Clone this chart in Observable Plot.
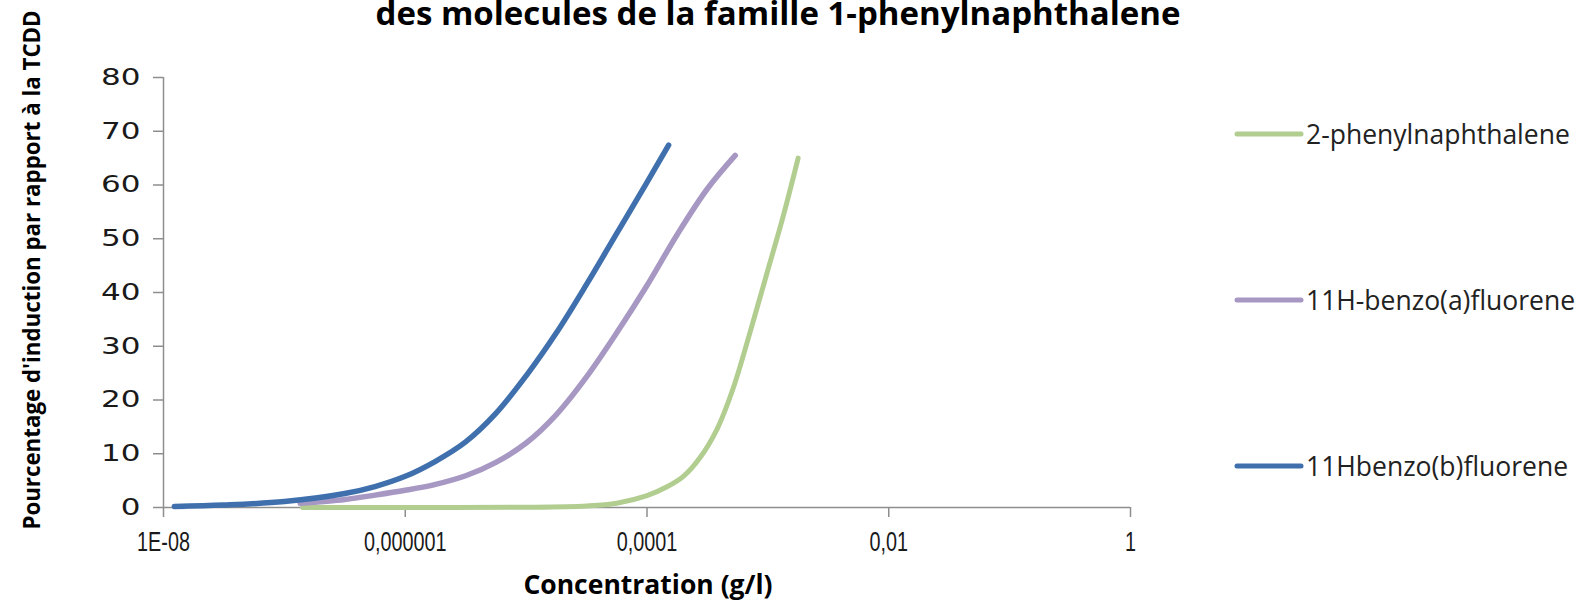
<!DOCTYPE html>
<html>
<head>
<meta charset="utf-8">
<script src="https://cdn.jsdelivr.net/npm/d3@7"></script>
<script src="https://cdn.jsdelivr.net/npm/@observablehq/plot@0.6"></script>
<style>
  html, body { margin: 0; padding: 0; background: #fff; }
  #wrap { position: relative; width: 1596px; height: 602px; overflow: hidden; background: #fff; }
  #chart { position: absolute; left: 0; top: 0; }
  .title { position: absolute; left: 778px; top: 0; transform: translateX(-50%);
    font: 700 33px/26px "Open Sans", sans-serif; white-space: nowrap; color: #000; }
  .ylab { position: absolute; left: 31px; top: 270px; transform: translate(-50%, -50%) rotate(-90deg);
    font: 700 22.3px "Open Sans", sans-serif; white-space: nowrap; color: #000; }
  .xlab { position: absolute; left: 648px; top: 584px; transform: translate(-50%, -50%);
    font: 700 26.5px/30px "Open Sans", sans-serif; white-space: nowrap; color: #000; }
  .leg { position: absolute; left: 1234px; transform: translateY(-50%); display: flex; align-items: center;
    font: 400 26.5px "Open Sans", sans-serif; color: #222; white-space: nowrap; }
  .leg svg { display: block; margin-right: 2px; }
</style>
</head>
<body>
<div id="wrap">
  <div id="chart"></div>
  <div class="title" id="title"></div>
  <div class="ylab" id="ylab"></div>
  <div class="xlab" id="xlab"></div>
  <div id="legend"></div>
</div>
<script>
// ---- data ----
const titleText = "des molecules de la famille 1-phenylnaphthalene";
const yLabel = "Pourcentage d'induction par rapport à la TCDD";
const xLabel = "Concentration (g/l)";

const seriesNames = ["2-phenylnaphthalene", "11H-benzo(a)fluorene", "11Hbenzo(b)fluorene"];
const seriesColors = ["#b2cd90", "#a697c3", "#3f70ad"];
const seriesWidths = [5, 5.5, 5.5];

const xTicks = [1e-8, 1e-6, 1e-4, 1e-2, 1];
const xTickLabels = ["1E-08", "0,000001", "0,0001", "0,01", "1"];
const yTicks = [0, 10, 20, 30, 40, 50, 60, 70, 80];

// 2-phenylnaphthalene
const concGreen = [1.41e-7, 1e-6, 1e-5, 3.16e-5, 5.62e-5, 1e-4, 1.45e-4, 2.0e-4, 2.75e-4, 3.8e-4, 5.13e-4, 7.08e-4, 9.77e-4, 1.35e-3, 1.78e-3];
const valGreen  = [0, 0, 0.05, 0.3, 0.8, 2.2, 3.8, 5.8, 9.3, 14.6, 22.0, 32.4, 43.4, 54.5, 65.0];

// 11H-benzo(a)fluorene
const concPurple = [1.35e-7, 3.16e-7, 5.62e-7, 1e-6, 1.78e-6, 3.16e-6, 5.62e-6, 1e-5, 1.78e-5, 3.16e-5, 5.62e-5, 1e-4, 1.78e-4, 3.16e-4, 5.37e-4];
const valPurple  = [0.8, 1.5, 2.3, 3.2, 4.3, 5.9, 8.4, 12.0, 17.3, 24.3, 32.5, 41.3, 50.8, 59.3, 65.5];

// 11Hbenzo(b)fluorene
const concBlue = [1.23e-8, 3.16e-8, 1e-7, 3.16e-7, 5.62e-7, 1e-6, 1.78e-6, 3.16e-6, 5.62e-6, 1e-5, 1.78e-5, 3.16e-5, 5.62e-5, 1e-4, 1.51e-4];
const valBlue  = [0.2, 0.45, 1.1, 2.6, 3.9, 5.8, 8.6, 12.2, 17.5, 24.5, 32.5, 41.5, 51.0, 60.5, 67.4];

// ---- build table ----
const seriesConc = [concGreen, concPurple, concBlue];
const seriesVals = [valGreen, valPurple, valBlue];
const rows = [];
seriesNames.forEach((name, s) => {
  seriesConc[s].forEach((c, i) => rows.push({series: name, conc: c, value: seriesVals[s][i]}));
});

const gray = "#8e8e8e";

const lineMarks = seriesNames.map((name, s) =>
  Plot.line(rows.filter(r => r.series === name), {
    x: "conc", y: "value",
    stroke: seriesColors[s], strokeWidth: seriesWidths[s],
    strokeLinecap: "round", strokeLinejoin: "round",
    curve: "catmull-rom"
  })
);

const chart = Plot.plot({
  width: 1200,
  height: 602,
  marginLeft: 163,
  marginRight: 70,
  marginTop: 77,
  marginBottom: 95,
  style: {background: "#fff", color: "#222", overflow: "visible"},
  x: {type: "log", domain: [1e-8, 1]},
  y: {domain: [0, 80]},
  marks: [
    Plot.ruleY([0], {stroke: gray, strokeWidth: 1.5}),
    Plot.ruleX([1e-8], {stroke: gray, strokeWidth: 1.5}),
    Plot.axisX({
      ticks: xTicks,
      tickFormat: d => xTickLabels[xTicks.indexOf(d)],
      tickSize: 10, tickPadding: 14,
      stroke: gray, strokeWidth: 1.5, fill: "#1a1a1a",
      label: null
    }),
    Plot.axisY({
      ticks: yTicks,
      tickSize: 10, tickPadding: 13,
      stroke: gray, strokeWidth: 1.5, fill: "#1a1a1a",
      label: null
    }),
    ...lineMarks
  ]
});
document.getElementById("chart").appendChild(chart);

// tick label fonts, with a horizontal stretch to match the reference's glyph proportions
function styleTicks(selector, family, size, sx) {
  chart.querySelectorAll(selector).forEach(g => {
    g.setAttribute("font-family", family);
    g.setAttribute("font-size", size);
    g.querySelectorAll("text").forEach(el => {
      el.style.fontFamily = family;
      el.style.fontSize = size + "px";
      const t = el.getAttribute("transform") || "";
      el.setAttribute("transform", (t + ` scale(${sx},1)`).trim());
    });
  });
}
styleTicks('g[aria-label="x-axis tick label"]', "'Liberation Sans', Arial, sans-serif", 27.5, 0.72);
styleTicks('g[aria-label="y-axis tick label"]', "'DejaVu Sans', sans-serif", 23, 1.35);

document.getElementById("title").textContent = titleText;
document.getElementById("ylab").textContent = yLabel;
document.getElementById("xlab").textContent = xLabel;

// ---- legend (HTML) ----
const legendTops = [134, 300, 466];
const legend = document.getElementById("legend");
seriesNames.forEach((name, s) => {
  const item = document.createElement("div");
  item.className = "leg";
  item.style.top = legendTops[s] + "px";
  item.innerHTML = `<svg width="70" height="10"><line x1="3" y1="5" x2="67" y2="5" stroke="${seriesColors[s]}" stroke-width="5" stroke-linecap="round"/></svg>`;
  const span = document.createElement("span");
  span.textContent = name;
  item.appendChild(span);
  legend.appendChild(item);
});
</script>
</body>
</html>
